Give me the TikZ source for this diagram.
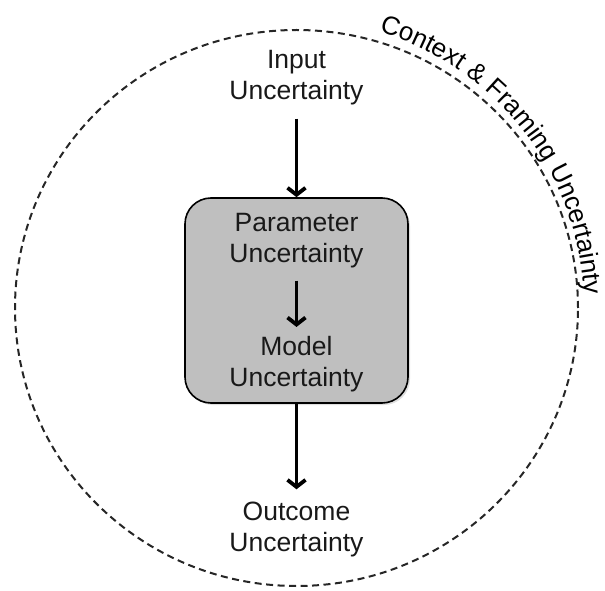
\documentclass[tikz,border=0pt]{standalone}
\usepackage{fontspec}
\setmainfont{Liberation Sans}
\usetikzlibrary{arrows.meta,decorations.text,shadows}
\begin{document}
\begin{tikzpicture}[x=1pt,y=1pt,
  lbl/.style={align=center, font=\fontsize{26.5}{31}\selectfont, inner sep=0pt, text=black!90},
  arr/.style={line width=3.8pt, -{Straight Barb[length=7pt,width=18pt]}},
  boxstyle/.style={draw=black, line width=1.6pt, fill=black!25, rounded corners=26pt,
    minimum width=223pt, minimum height=205pt,
    drop shadow={opacity=0.25, shadow xshift=2pt, shadow yshift=-2pt}},
  ctx/.style={dash pattern=on 7pt off 4.5pt, line width=2pt, draw=black!85}
]
\useasboundingbox (0,0) rectangle (605,590);
\draw[ctx] (296.5,282) ellipse [x radius=281.5, y radius=278];
\node[boxstyle] (box) at (296.5,289.5) {};
\node[lbl] (input) at (296.5,512) {Input\\Uncertainty};
\node[lbl] (param) at (296.5,349) {Parameter\\Uncertainty};
\node[lbl] (model) at (296.5,226) {Model\\Uncertainty};
\node[lbl] (outcome) at (296.5,61) {Outcome\\Uncertainty};
\draw[arr, shorten <=13pt] (input.south) -- (box.north);
\draw[arr, shorten <=12pt, shorten >=9pt] (param.south) -- (model.north);
\draw[arr, shorten >=12pt] (box.south) -- (outcome.north);
\path[decorate, decoration={text along path, text align=center,
  text={|\fontsize{26}{30}\selectfont|Context {\&} Framing Uncertainty}}]
  (296.5,282) ++(78:288) arc[start angle=78, end angle=-2, radius=288];
\end{tikzpicture}
\end{document}
